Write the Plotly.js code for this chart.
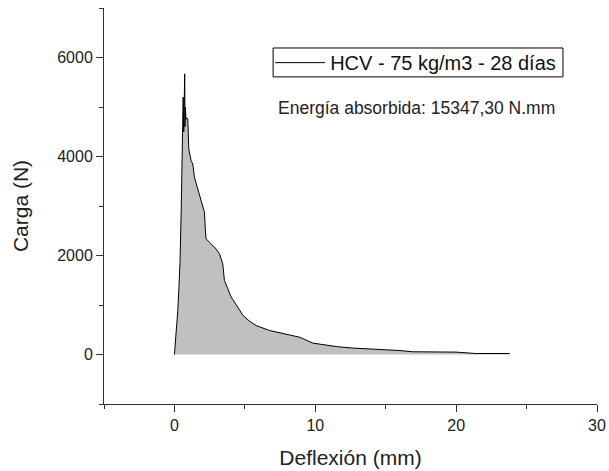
<!DOCTYPE html>
<html>
<head>
<meta charset="utf-8">
<script src="https://cdn.plot.ly/plotly-3.0.1.min.js"></script>
<style>html,body{margin:0;padding:0;background:#fff;}#chart{width:609px;height:471px;}</style>
</head>
<body>
<div id="chart"></div>
<script>
const seriesName = "HCV - 75 kg/m3 - 28 días";
const deflexion = [0, 0.12, 0.24, 0.32, 0.4, 0.48, 0.55, 0.6, 0.62, 0.66, 0.7, 0.73, 0.75, 0.78, 0.82, 0.85, 0.95, 1.02, 1.18, 1.3, 1.42, 1.6, 1.78, 1.95, 2.13, 2.2, 2.25, 2.6, 2.9, 3.2, 3.43, 3.55, 3.8, 4.03, 4.5, 4.86, 5.3, 5.8, 6.75, 7.94, 8.88, 9.83, 10.54, 11.5, 12.67, 14.8, 16, 16.9, 18.5, 20, 21.4, 23.8];
const carga = [0, 400, 890, 1350, 1900, 2900, 3920, 4300, 5200, 4500, 5400, 5670, 4600, 5000, 4750, 4780, 4760, 4150, 3920, 3850, 3580, 3400, 3245, 3060, 2875, 2500, 2335, 2235, 2150, 2035, 1830, 1495, 1300, 1160, 955, 790, 680, 585, 485, 415, 350, 230, 195, 160, 130, 100, 80, 55, 50, 48, 20, 20];
const energyText = "Energía absorbida: 15347,30 N.mm";

const font = "Liberation Sans, Arial, sans-serif";
const traces = [
  {x: deflexion, y: carga, type: 'scatter', mode: 'lines', fill: 'tozeroy',
   fillcolor: '#c0c0c0', line: {color: '#000', width: 1}, showlegend: false, hoverinfo: 'skip'},
  {x: [null], y: [null], type: 'scatter', mode: 'lines', name: seriesName,
   line: {color: '#000', width: 1}, showlegend: true}
];
const axisCommon = {showgrid: false, zeroline: false, showline: true, linecolor: '#333', linewidth: 1,
  ticks: 'outside', ticklen: 7, tickcolor: '#333', tickfont: {family: font, size: 16, color: '#222'}};
const layout = {
  width: 609, height: 471,
  margin: {l: 104, r: 12, t: 8, b: 67},
  paper_bgcolor: '#fff', plot_bgcolor: '#fff',
  font: {family: font, color: '#222'},
  xaxis: Object.assign({}, axisCommon, {range: [-5, 30], dtick: 10, tick0: 0,
    minor: {dtick: 5, ticks: 'outside', ticklen: 4, tickcolor: '#333', showgrid: false},
    title: {text: 'Deflexión (mm)', font: {family: font, size: 21, color: '#222'}, standoff: 17}}),
  yaxis: Object.assign({}, axisCommon, {range: [-1000, 7000], dtick: 2000, tick0: 0,
    minor: {dtick: 1000, ticks: 'outside', ticklen: 4, tickcolor: '#333', showgrid: false},
    title: {text: 'Carga (N)', font: {family: font, size: 21, color: '#222'}, standoff: 22}}),
  showlegend: true,
  legend: {x: 0.337, y: 0.862, xanchor: 'left', yanchor: 'middle', borderwidth: 0,
    bgcolor: 'rgba(0,0,0,0)', font: {family: font, size: 20, color: '#111'}, itemwidth: 50, tracegroupgap: 0},
  shapes: [{type: 'rect', xref: 'paper', yref: 'paper', x0: 0.343, x1: 0.931, y0: 0.826, y1: 0.899,
    line: {color: '#000', width: 1}, fillcolor: 'rgba(0,0,0,0)', layer: 'above'}],
  annotations: [{xref: 'paper', yref: 'paper', x: 0.349, y: 0.747, xanchor: 'left', yanchor: 'middle',
    text: energyText, showarrow: false, font: {family: font, size: 17.5, color: '#222'}}]
};
Plotly.newPlot('chart', traces, layout, {displayModeBar: false, staticPlot: true});
</script>
</body>
</html>
